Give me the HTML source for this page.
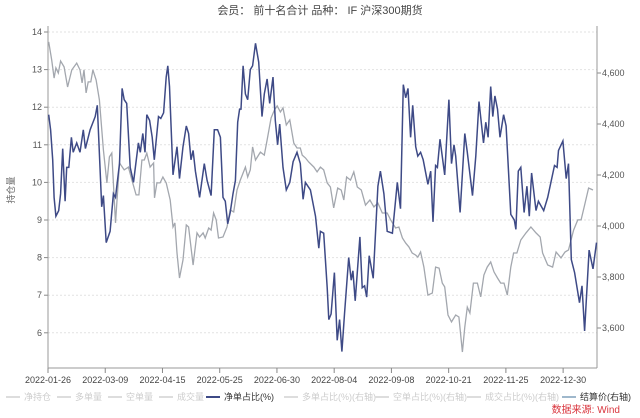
<!DOCTYPE html>
<html><head><meta charset="utf-8"><style>
body{margin:0;background:#fff;}
svg{display:block;font-family:"Liberation Sans","Noto Sans CJK SC",sans-serif;}
</style></head><body>
<svg id="c" width="640" height="418"></svg>
<script>
const tickLabels=["2022-01-26","2022-03-09","2022-04-15","2022-05-25","2022-06-30","2022-08-04","2022-09-08","2022-10-21","2022-11-25","2022-12-30"];
const tickDays=[0,24.5,49,73.5,98,122.5,147,171.5,196,220.5];
const leftTicks=[14,13,12,11,10,9,8,7,6];
const rightTicks=[4600,4400,4200,4000,3800,3600];
const netDays=[0.3,1.1,2.0,2.6,3.4,4.6,5.4,6.3,7.3,8.0,8.9,10.0,10.8,12.3,13.7,15.1,16.0,18.0,20.2,21.1,23.0,23.7,24.9,26.6,28.0,28.9,30.6,31.7,32.6,33.7,35.2,36.6,38.7,39.5,40.6,41.5,42.3,43.5,44.6,45.5,47.3,48.3,49.5,50.6,51.3,52.0,53.5,55.2,56.3,57.8,59.2,60.2,61.2,62.1,63.1,64.9,66.9,68.1,69.8,71.2,72.6,73.8,74.9,75.9,76.9,78.0,79.2,80.2,81.2,82.0,82.6,83.5,84.5,85.5,86.6,87.6,88.8,90.2,91.6,92.6,93.8,94.9,96.3,97.3,98.3,99.2,100.6,102.0,103.5,104.9,106.6,108.0,109.2,110.2,112.3,114.5,115.9,116.6,118.0,119.5,120.2,121.2,122.6,123.8,124.8,125.8,126.9,128.7,129.8,130.5,131.5,133.5,134.5,135.5,136.4,137.5,139.2,141.2,142.3,143.8,145.2,147.4,149.5,150.9,152.1,153.1,154.1,155.2,156.1,157.4,158.3,159.5,160.6,162.6,163.8,164.8,165.9,166.7,167.8,169.8,171.6,172.7,173.8,174.5,176.4,178.4,179.5,181.7,183.1,184.5,186.4,187.4,188.4,189.5,190.4,191.3,192.4,193.5,195.0,196.1,198.1,199.6,200.3,201.3,202.4,203.8,205.0,206.0,207.0,208.9,209.9,212.2,213.9,216.8,217.9,218.5,220.4,221.8,222.8,224.0,225.4,227.5,228.6,229.7,231.6,233.3,234.8];
const netValues=[11.8,11.4,10.6,9.6,9.1,9.25,9.7,10.9,9.5,10.4,10.4,11.2,10.8,11.05,10.8,11.4,10.9,11.4,11.75,12.05,9.35,9.65,8.4,8.7,9.7,9.6,10.5,12.5,12.2,12.1,10.4,10.0,11.05,10.8,11.3,10.8,11.8,11.65,11.2,10.6,11.75,11.7,11.85,12.8,13.1,12.55,10.2,10.95,10.1,10.95,11.5,11.3,10.6,10.85,10.3,9.6,10.5,10.05,9.65,11.4,11.4,11.2,9.6,9.5,8.9,9.2,9.7,10.05,11.6,11.95,11.95,13.1,12.35,12.2,13.0,13.1,13.7,13.2,11.75,12.35,12.75,12.1,12.8,11.65,11.0,11.55,10.4,9.8,10.0,10.55,10.8,10.5,9.55,10.0,9.8,9.1,8.25,8.7,8.65,7.2,6.35,6.5,7.6,5.8,6.35,5.5,6.5,8.0,7.4,7.65,6.85,8.55,7.2,7.25,6.95,8.05,7.45,9.9,10.3,9.7,8.7,8.65,10.0,9.3,12.6,12.25,12.5,11.2,12.05,10.95,10.7,10.8,10.6,9.95,10.3,8.95,10.45,10.4,11.15,10.2,12.2,10.5,11.0,10.7,9.2,11.3,10.8,9.65,10.7,12.15,11.05,11.6,11.2,12.55,11.75,12.3,11.95,11.2,11.8,11.5,9.15,9.0,8.75,10.3,10.4,9.2,9.9,9.1,10.25,9.25,9.5,9.25,9.6,10.45,10.4,10.85,11.1,10.1,10.5,7.95,7.6,6.8,7.25,6.05,8.2,7.7,8.4];
const priceDays=[0.3,1.6,2.6,3.4,4.4,5.4,6.9,8.4,10.2,12.3,13.7,14.6,15.4,16.3,17.2,18.3,19.2,20.6,22.0,23.7,25.2,26.3,27.3,28.9,30.6,32.6,34.4,35.9,37.7,38.9,40.2,41.2,42.3,43.7,45.2,45.6,46.6,48.0,49.2,50.6,52.3,53.5,54.3,55.2,56.3,57.8,59.2,60.2,62.1,63.8,64.9,66.4,67.3,68.8,69.8,70.9,72.0,73.0,74.9,76.6,78.0,79.5,80.9,82.3,83.5,84.5,85.5,86.6,87.6,88.8,90.9,92.6,93.8,95.5,96.9,98.1,99.5,100.6,102.0,103.5,105.2,106.6,108.0,108.8,110.2,111.6,113.8,115.2,116.6,118.0,119.5,120.9,122.3,124.0,125.5,126.6,127.8,129.5,130.9,132.4,134.1,135.9,137.8,139.5,141.2,143.1,145.2,146.7,148.8,150.2,151.7,153.1,154.5,155.9,157.4,158.3,159.5,160.9,162.6,164.5,165.9,167.4,168.8,169.8,171.2,172.7,174.5,175.9,177.4,178.4,179.5,180.6,182.1,183.8,185.2,186.6,188.0,189.5,190.9,192.4,193.8,195.2,196.6,198.1,199.3,200.7,202.4,204.6,206.7,208.9,210.7,211.7,213.9,216.0,217.5,219.6,221.3,222.8,225.0,226.8,228.2,229.7,231.4,233.3];
const priceValues=[4722,4651,4580,4620,4600,4647,4624,4545,4612,4639,4612,4561,4612,4522,4565,4565,4612,4573,4494,4298,4169,4271,4286,4012,4247,4220,4231,4180,4122,4122,4259,4259,4286,4231,4247,4110,4169,4169,4192,4169,4102,3996,4012,3894,3796,3867,4004,3996,3847,3973,3957,3973,3953,3992,3984,4051,4024,3953,3957,3996,4063,4055,4141,4180,4208,4231,4192,4220,4310,4259,4290,4278,4337,4424,4455,4471,4447,4463,4396,4416,4325,4306,4306,4278,4267,4251,4231,4212,4231,4220,4169,4153,4071,4149,4141,4102,4192,4180,4212,4153,4141,4082,4102,4075,4090,4051,4051,4024,3992,3996,3953,3933,3918,3894,3886,3878,3898,3839,3729,3737,3839,3835,3776,3761,3651,3624,3651,3643,3506,3604,3682,3659,3776,3776,3722,3808,3839,3859,3820,3796,3776,3776,3729,3839,3894,3894,3945,3973,3996,3973,3957,3894,3847,3839,3898,3875,3898,3906,3984,4024,4024,4082,4149,4141,4200];

const NS="http://www.w3.org/2000/svg";
const svg=document.getElementById('c');
function mk(tag,attrs,parent){const e=document.createElementNS(NS,tag);for(const k in attrs)e.setAttribute(k,attrs[k]);(parent||svg).appendChild(e);return e;}
const X0=48,X1=597,TOP=20,BOT=368;
const x=d=>X0+d*(X1-X0)/235;
const yL=v=>32+(14-v)*37.6;
const yR=v=>73+(4600-v)*0.255;

let t=mk('text',{x:320,y:14,'text-anchor':'middle','font-size':11,fill:'#444'});


t.textContent='会员： 前十名合计 品种： IF 沪深300期货';

leftTicks.forEach(v=>{
  const g=mk('line',{x1:X0,x2:X1,y1:yL(v),y2:yL(v),stroke:'#e2e2e2','stroke-dasharray':'2,2'});
  
  
  mk('line',{x1:X0-4,x2:X0,y1:yL(v),y2:yL(v),stroke:'#888'});
  const l=mk('text',{x:X0-6,y:yL(v)+3,'text-anchor':'end','font-size':9,fill:'#555'});
  
  
  l.textContent=v;
});
rightTicks.forEach(v=>{
  mk('line',{x1:X1,x2:X1+4,y1:yR(v),y2:yR(v),stroke:'#888'});
  const l=mk('text',{x:X1+5,y:yR(v)+3,'font-size':9,fill:'#555'});
  
  
  l.textContent=v.toLocaleString('en-US');
});
mk('line',{x1:X0,x2:X0,y1:TOP+6,y2:BOT,stroke:'#999'});
mk('line',{x1:X1,x2:X1,y1:TOP+6,y2:BOT,stroke:'#999'});
mk('line',{x1:X0,x2:X1,y1:BOT,y2:BOT,stroke:'#999'});
tickDays.forEach((d,i)=>{
  mk('line',{x1:x(d),x2:x(d),y1:BOT,y2:BOT+5,stroke:'#888'});
  const l=mk('text',{x:x(d),y:BOT+15,'text-anchor':'middle','font-size':9,fill:'#444'});
  
  
  l.textContent=tickLabels[i];
});
const yt=mk('text',{x:14,y:190,'text-anchor':'middle','font-size':9,fill:'#666',transform:'rotate(-90 14 190)'});


yt.textContent='持仓量';

function path(days,vals,fy){let s='';const n=Math.min(days.length,vals.length);for(let i=0;i<n;i++)s+=(i?'L':'M')+x(days[i]).toFixed(1)+','+fy(vals[i]).toFixed(1);return s;}
const p2=mk('path',{d:path(priceDays,priceValues,yR),fill:'none',stroke:'#a3a7ae','stroke-width':1.3});


const p1=mk('path',{d:path(netDays,netValues,yL),fill:'none',stroke:'#3e4a86','stroke-width':1.5});



const legend=[["净持仓",6,'#ddd','#ccc'],["多单量",57,'#ddd','#ccc'],["空单量",108,'#ddd','#ccc'],["成交量",159,'#ddd','#ccc'],["净单占比(%)",206,'#3e4a86','#333'],["多单占比(%)(右轴)",284,'#ddd','#ccc'],["空单占比(%)(右轴)",375,'#ddd','#ccc'],["成交占比(%)(右轴)",467,'#ddd','#ccc'],["结算价(右轴)",562,'#9fb8cc','#333']];
legend.forEach(([name,lx,lc,tc])=>{
  const g=mk('g',{});
  
  
  mk('line',{x1:lx,x2:lx+14,y1:397,y2:397,stroke:lc,'stroke-width':2},g);
  const tx=mk('text',{x:lx+18,y:400,'font-size':9,fill:tc},g);
  tx.textContent=name;
});
const src=mk('text',{x:620,y:413,'text-anchor':'end','font-size':10,fill:'#d9363e'});


src.textContent='数据来源: Wind';
</script>
</body></html>
